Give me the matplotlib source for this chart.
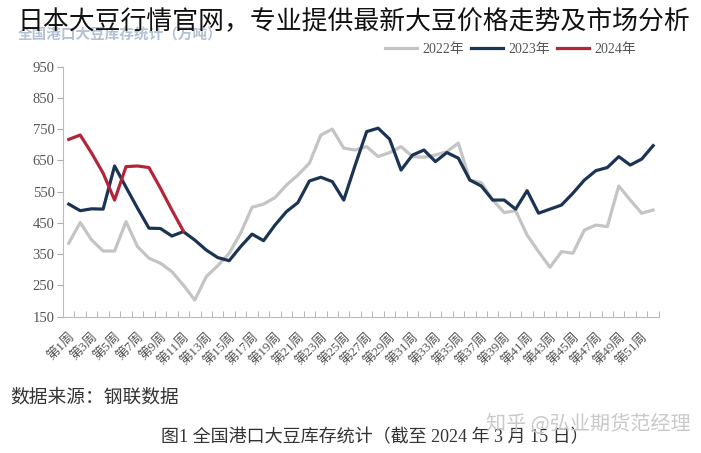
"""Port soybean inventory by week, 2022-2024."""
import matplotlib
matplotlib.use("Agg")
import matplotlib.pyplot as plt

serif = ['Liberation Serif', 'Noto Sans CJK SC']
cjk = ['Noto Sans CJK SC', 'DejaVu Sans']

# weekly inventory (10k tonnes)
weeks = list(range(1, 53))
week_labels = ['第%d周' % w for w in weeks]
inv_2022 = [385, 451, 395, 360, 360, 454, 374, 337, 321, 294,
            251, 203, 278, 313, 353, 417, 500, 510, 531, 571,
            603, 641, 731, 750, 689, 683, 694, 662, 675, 694,
            662, 660, 667, 678, 705, 587, 579, 523, 483, 489,
            411, 358, 308, 358, 353, 427, 443, 438, 568, 523,
            481, 491]
inv_2023 = [510, 489, 495, 494, 632, 564, 497, 433, 432, 408,
            422, 395, 363, 339, 329, 374, 414, 393, 443, 486,
            515, 584, 596, 582, 523, 635, 742, 753, 718, 619,
            667, 683, 646, 675, 657, 587, 568, 523, 523, 494,
            553, 481, 494, 507, 545, 587, 617, 627, 662, 635,
            654, 697]
inv_2024 = [717, 731, 673, 609, 523, 630, 632, 627, 561, 491, 424]

fig = plt.figure(figsize=(7.01, 4.53), dpi=100)
ax = fig.add_axes([0.0899, 0.301, 0.850, 0.552])

ax.plot(weeks, inv_2022, color='#c4c4c4', lw=2.3, label='2022年')
ax.plot(weeks, inv_2023, color='#1c3454', lw=2.3, label='2023年')
ax.plot(weeks[:len(inv_2024)], inv_2024, color='#b3263a', lw=2.3, label='2024年')

ax.set_xlim(0.5, 52.5)
ax.set_ylim(150, 950)
ax.set_yticks(range(150, 951, 100))
ax.set_yticklabels([str(v) for v in range(150, 951, 100)], family=serif,
                   fontsize=10.5, color='#555555')

# labels on odd weeks, tick marks between categories
ax.set_xticks(weeks[::2])
ax.set_xticklabels(week_labels[::2], rotation=45, ha='right',
                   rotation_mode='anchor', family=serif, fontsize=9.5,
                   color='#555555')
ax.tick_params(axis='x', length=0, pad=10)
ax.set_xticks([w + 0.5 for w in range(0, 53)], minor=True)
ax.tick_params(axis='x', which='minor', direction='in', length=4, color='#aaaaaa')
ax.tick_params(axis='y', length=4, color='#aaaaaa', pad=2)

for s in ['top', 'right']:
    ax.spines[s].set_visible(False)
for s in ['left', 'bottom']:
    ax.spines[s].set_color('#bbbbbb')

leg = fig.legend(loc='center right', bbox_to_anchor=(0.925, 0.89), ncol=3,
                 frameon=False, prop={'family': serif, 'size': 10},
                 handlelength=2.3, handletextpad=0.35, columnspacing=0.55)
for t in leg.get_texts():
    t.set_color('#555555')

fig.text(0.026, 0.923, '全国港口大豆库存统计（万吨）', family=cjk, fontsize=10.5,
         weight='bold', color='#b3c1d4', va='center', zorder=1)
fig.text(0.505, 0.952, '日本大豆行情官网，专业提供最新大豆价格走势及市场分析',
         family=cjk, fontsize=18.6, color='#111111', ha='center', va='center',
         zorder=5)

fig.text(0.014, 0.123, '数据来源：钢联数据', family=serif, fontsize=13.5,
         color='#333333', va='center')
fig.text(0.535, 0.035, '图1 全国港口大豆库存统计（截至 2024 年 3 月 15 日）',
         family=serif, fontsize=13, color='#333333', ha='center', va='center')
fig.text(0.985, 0.062, '知乎 @弘业期货范经理', family=cjk, fontsize=14.5,
         color='#c9c9c9', ha='right', va='center')

fig.savefig('out.png', dpi=100)
